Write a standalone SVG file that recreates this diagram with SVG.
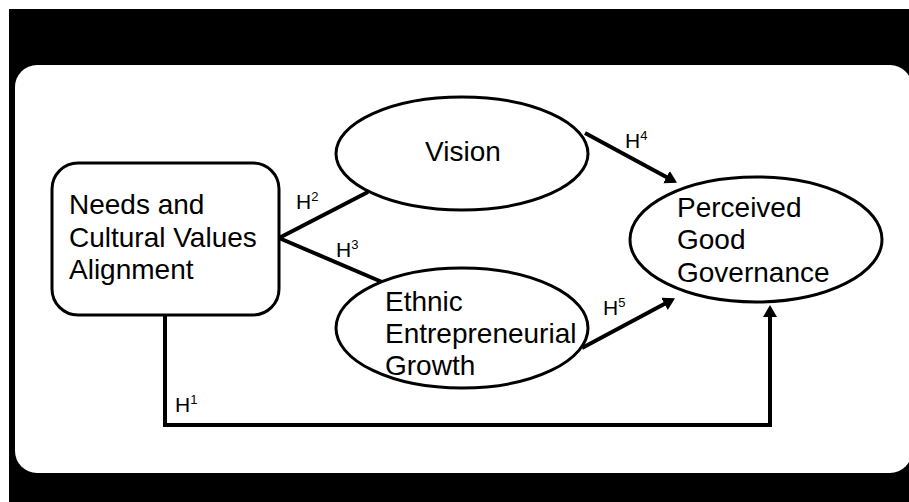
<svg xmlns="http://www.w3.org/2000/svg" width="909" height="502" viewBox="0 0 909 502">
<style>
text{font-family:"Liberation Sans",Arial,sans-serif;fill:#000}
.lbl{font-size:28px}
.h{font-size:21px}
.sup{font-size:13px}
.node{fill:#fff;stroke:#000;stroke-width:3}
.con{fill:none;stroke:#000;stroke-width:4}
</style>
<defs>
<marker id="arr" markerUnits="userSpaceOnUse" markerWidth="16" markerHeight="16" refX="4" refY="7" orient="auto">
<path d="M0,0 L12,7 L0,14 z" fill="#000"/>
</marker>
</defs>
<rect x="0" y="0" width="909" height="502" fill="#fff"/>
<rect x="9" y="9" width="900" height="493" fill="#000"/>
<rect x="15" y="65" width="897" height="408" rx="22" fill="#fff"/>
<g id="connectors">
<line class="con" x1="279" y1="238" x2="368" y2="192"/>
<line class="con" x1="279" y1="238" x2="382" y2="282"/>
<line class="con" x1="585" y1="133" x2="670" y2="179" marker-end="url(#arr)"/>
<line class="con" x1="582" y1="348" x2="668" y2="302" marker-end="url(#arr)"/>
<path class="con" d="M165,315 V425 H770 V313" marker-end="url(#arr)"/>
</g>
<g id="needs">
<rect class="node" x="52" y="163" width="227" height="152" rx="26"/>
<text class="lbl" x="69" y="214">Needs and</text>
<text class="lbl" x="69" y="247">Cultural Values</text>
<text class="lbl" x="69" y="279">Alignment</text>
</g>
<g id="vision">
<ellipse class="node" cx="462" cy="153.5" rx="126" ry="56.5"/>
<text class="lbl" x="463" y="161" text-anchor="middle">Vision</text>
</g>
<g id="ethnic">
<ellipse class="node" cx="462" cy="328" rx="126" ry="60"/>
<text class="lbl" x="385" y="311">Ethnic</text>
<text class="lbl" x="385" y="343">Entrepreneurial</text>
<text class="lbl" x="385" y="375">Growth</text>
</g>
<g id="perceived">
<ellipse class="node" cx="756" cy="239.5" rx="126" ry="62.5"/>
<text class="lbl" x="677" y="217">Perceived</text>
<text class="lbl" x="677" y="249">Good</text>
<text class="lbl" x="677" y="282">Governance</text>
</g>
<g id="labels">
<text class="h" x="296" y="209">H<tspan class="sup" dy="-8">2</tspan></text>
<text class="h" x="336" y="257">H<tspan class="sup" dy="-8">3</tspan></text>
<text class="h" x="625" y="148">H<tspan class="sup" dy="-8">4</tspan></text>
<text class="h" x="603" y="315">H<tspan class="sup" dy="-8">5</tspan></text>
<text class="h" x="175" y="412">H<tspan class="sup" dy="-8">1</tspan></text>
</g>
</svg>
